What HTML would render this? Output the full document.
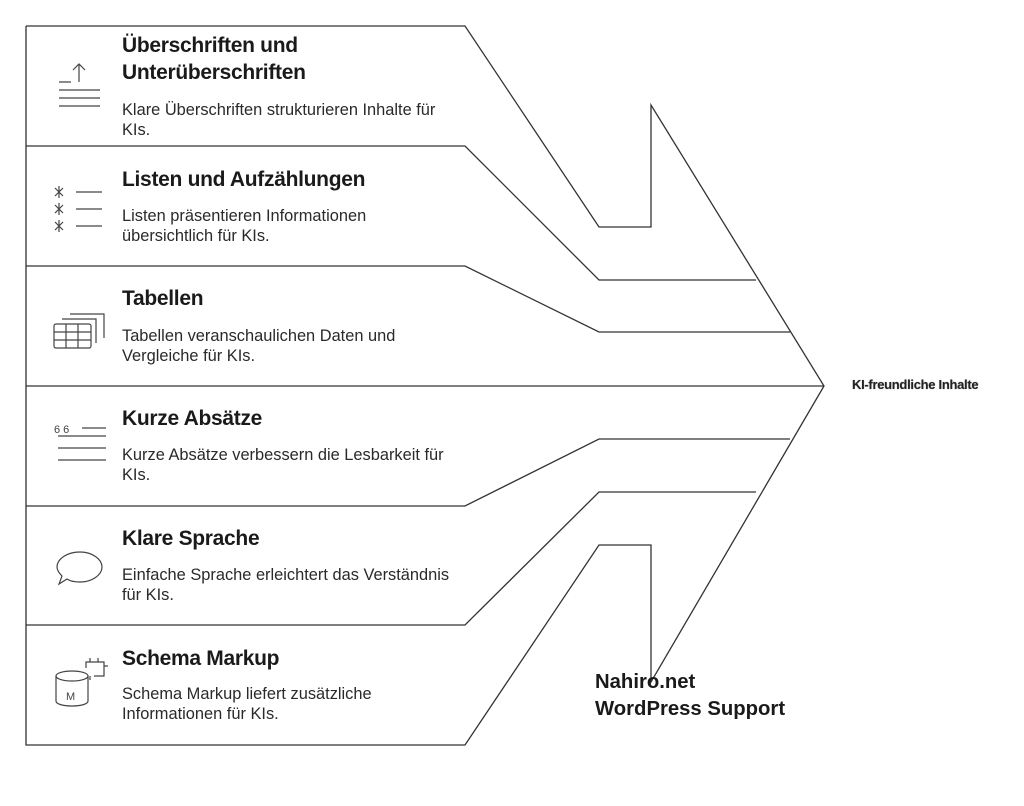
<!DOCTYPE html>
<html><head><meta charset="utf-8"><style>
body{margin:0;background:#fff;width:1024px;height:806px;overflow:hidden;font-family:"Liberation Sans",sans-serif;color:#222}
.t{position:absolute;left:122px;font-weight:bold;font-size:21px;line-height:27px;color:#1a1a1a;letter-spacing:-0.3px}
.d{position:absolute;left:122px;font-size:16.4px;line-height:20px;color:#2a2a2a}
</style></head><body>
<svg width="1024" height="806" style="position:absolute;left:0;top:0" fill="none" stroke="#333" stroke-width="1.3">
<polyline points="26,26 465,26 599,227 651,227 651,105 824,386 651,682 651,545 599,545 465,745 26,745 26,26"/>
<polyline points="26,146 465,146 599,280 756,280"/>
<polyline points="26,266 465,266 599,332 790,332"/>
<polyline points="26,386 824,386"/>
<polyline points="26,506 465,506 599,439 790,439"/>
<polyline points="26,625 465,625 599,492 756,492"/>
<g stroke="#444" stroke-width="1.2">
<path d="M59,82h12M79,82V64M73,70l6,-6l6,6M59,90h41M59,98h41M59,106h41"/>
<path d="M55,188l8,8M55,196l8,-8M59,186v12M55,205l8,8M55,213l8,-8M59,203v12M55,222l8,8M55,230l8,-8M59,220v12M76,192h26M76,209h26M76,226h26"/>
<rect x="54" y="324" width="37" height="24" rx="2"/>
<path d="M54,332h37M54,340h37M66,324v24M78,324v24M62,319h34v24M70,314h34v24"/>
<path d="M82,428h24M58,436h48M58,448h48M58,460h48"/>
<text x="54" y="433" font-size="11" fill="#444" stroke="none">6 6</text>
<path d="M80,552c12,0 22,7 22,15s-10,15 -22,15c-5,0 -10,-1 -13,-3l-8,5l3,-8c-3,-3 -5,-6 -5,-9c0,-8 10,-15 23,-15z"/>
<ellipse cx="72" cy="676" rx="16" ry="5"/>
<path d="M56,676v25c0,3 7,5 16,5s16,-2 16,-5v-25"/>
<path d="M86,668v-6h18v14h-10M90,662v-4M98,662v-4M104,666h4M90,676v4"/>
<text x="66" y="700" font-size="11" fill="#444" stroke="none">M</text>
</g>
</svg>
<div class="t" style="top:32px">Überschriften und<br>Unterüberschriften</div>
<div class="d" style="top:100px">Klare Überschriften strukturieren Inhalte für<br>KIs.</div>
<div class="t" style="top:166px">Listen und Aufzählungen</div>
<div class="d" style="top:206px">Listen präsentieren Informationen<br>übersichtlich für KIs.</div>
<div class="t" style="top:285px">Tabellen</div>
<div class="d" style="top:326px">Tabellen veranschaulichen Daten und<br>Vergleiche für KIs.</div>
<div class="t" style="top:405px">Kurze Absätze</div>
<div class="d" style="top:445px">Kurze Absätze verbessern die Lesbarkeit für<br>KIs.</div>
<div class="t" style="top:525px">Klare Sprache</div>
<div class="d" style="top:565px">Einfache Sprache erleichtert das Verständnis<br>für KIs.</div>
<div class="t" style="top:645px">Schema Markup</div>
<div class="d" style="top:684px">Schema Markup liefert zusätzliche<br>Informationen für KIs.</div>
<div style="position:absolute;left:852px;top:377px;font-size:13px;font-weight:bold;color:#222;text-shadow:0 0 1px #888;letter-spacing:-0.3px">KI-freundliche Inhalte</div>
<div style="position:absolute;left:595px;top:669px;font-size:20.3px;font-weight:bold;line-height:27px;color:#1a1a1a">Nahiro.net<br>WordPress Support</div>
</body></html>
